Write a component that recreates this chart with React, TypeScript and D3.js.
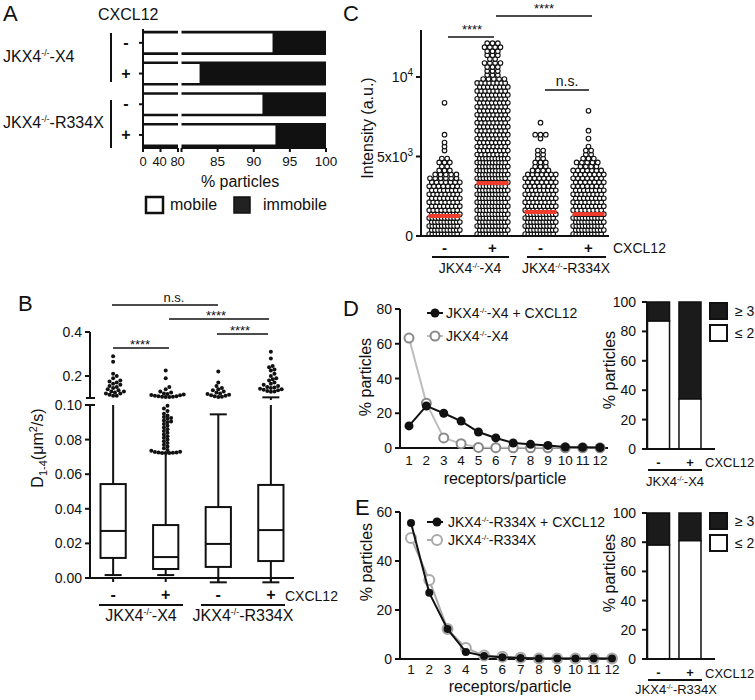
import React from 'react';
import * as d3 from 'd3';

const FONT = '"Liberation Sans", Arial, Helvetica, sans-serif';

// ---------- Panel A : mobile / immobile fractions ----------
const aConditions = ['-', '+', '-', '+'];
const aMobile = [92.6, 82.5, 91.2, 93.0];
const aSeg1Ticks = [0, 40, 80];
const aSeg2Ticks = [80, 85, 90, 95, 100];

// ---------- Panel B : D1-4 box plots ----------
const bConditions = ['-', '+', '-', '+'];
const bWhiskerLow = [0.0017, 0.0017, -0.0025, -0.0025];
const bQ1 = [0.0116, 0.0052, 0.0064, 0.0098];
const bMedian = [0.0272, 0.0121, 0.0197, 0.0277];
const bQ3 = [0.0543, 0.0306, 0.041, 0.0538];
const bWhiskerHigh = [0.1, 0.0723, 0.0946, 0.103];
const bOutliers1 = [0.29, 0.265, 0.21, 0.2, 0.19, 0.18, 0.175, 0.17, 0.165, 0.16, 0.155, 0.15, 0.145, 0.14, 0.135, 0.13, 0.13, 0.125, 0.12, 0.12, 0.115, 0.11, 0.11];
const bOutliers2 = [0.225, 0.19, 0.15, 0.14, 0.13, 0.125, 0.12, 0.118, 0.116, 0.114, 0.112, 0.11, 0.108, 0.108, 0.106, 0.106, 0.104, 0.104,
  0.0995, 0.098, 0.0965, 0.095, 0.094, 0.093, 0.0925, 0.092, 0.091, 0.0905, 0.09, 0.089, 0.088, 0.087, 0.086, 0.085, 0.084, 0.083, 0.082, 0.081, 0.08, 0.079, 0.078, 0.077, 0.076, 0.075, 0.074, 0.0735, 0.073, 0.0728, 0.0725, 0.0725, 0.0724, 0.0723, 0.0722, 0.0722];
const bOutliers3 = [0.22, 0.17, 0.155, 0.145, 0.14, 0.135, 0.13, 0.125, 0.12, 0.118, 0.115, 0.112, 0.11, 0.108, 0.106, 0.105];
const bOutliers4 = [0.31, 0.28, 0.245, 0.24, 0.23, 0.225, 0.21, 0.2, 0.19, 0.185, 0.18, 0.17, 0.165, 0.16, 0.155, 0.15, 0.148, 0.145, 0.142, 0.14, 0.138, 0.135, 0.132, 0.13, 0.128];
const bLowTicks = [0, 0.02, 0.04, 0.06, 0.08, 0.1];
const bHighTicks = [0.2, 0.4];

// ---------- Panel C : intensity dot plots (counts per 250 a.u. bin) ----------
const cConditions = ['-', '+', '-', '+'];
const cBinWidth = 250;
const cBins1 = [10, 10, 10, 10, 10, 10, 8, 8, 8, 8, 8, 8, 7, 7, 6, 5, 3, 2, 3, 2, 0, 1, 1, 1, 0, 1, 0, 0, 0, 0, 0, 0, 0, 1];
const cBins2 = [10, 10, 10, 10, 10, 10, 10, 10, 10, 10, 10, 10, 10, 10, 10, 10, 10, 10, 10, 10, 8, 8, 8, 8, 8, 8, 8, 8, 8, 8, 8, 8, 8, 8, 8, 8, 8, 8, 8, 5, 3, 3, 3, 4, 2, 3, 3, 4, 3];
const cBins3 = [10, 10, 10, 10, 10, 10, 8, 8, 8, 8, 8, 8, 7, 7, 7, 7, 4, 3, 3, 2, 2, 2, 0, 0, 1, 3, 0, 0, 1];
const cBins4 = [10, 10, 10, 10, 10, 10, 8, 8, 8, 8, 8, 8, 7, 7, 7, 7, 7, 4, 5, 3, 2, 2, 1, 0, 1, 0, 1, 0, 0, 0, 0, 1];
const cMedian = [1260, 3330, 1510, 1380];

// ---------- Panel D ----------
const receptors = [1, 2, 3, 4, 5, 6, 7, 8, 9, 10, 11, 12];
const dX4Cxcl = [12.7, 24.2, 20, 15.5, 9.2, 5.8, 2.9, 2.1, 1.5, 0.6, 0.4, 0.3];
const dX4 = [63.3, 25.8, 5.8, 2.5, 0.3, 0.2, 0.1, 0.1, 0.1, 0.1, 0.1, 0.1];
const dLow = [87, 34];
const dTicks = [0, 20, 40, 60, 80];

// ---------- Panel E ----------
const eR334XCxcl = [55.5, 27, 12.2, 2.9, 1.2, 0.7, 0.4, 0.2, 0.2, 0.2, 0.2, 0.2];
const eR334X = [49.4, 32.2, 12.2, 4.5, 1.4, 0.9, 0.5, 0.2, 0.2, 0.2, 0.2, 0.2];
const eLow = [78, 81];
const eTicks = [0, 20, 40, 60];
const barTicks = [0, 20, 40, 60, 80, 100];
const barConditions = ['-', '+'];

const K = '#111';

function Geno({ x, y, post, size, anchor = 'start' }: any) {
  return (
    <text x={x} y={y} fontSize={size} textAnchor={anchor} fill={K}>
      JKX4<tspan dy={-size * 0.38} fontSize={size * 0.55}>-/-</tspan>
      <tspan dy={size * 0.38}>{post}</tspan>
    </text>
  );
}

function swarm(vals: number[], cx: number, yf: (v: number) => number, r: number) {
  const placed: { x: number; y: number }[] = [];
  const sorted = [...vals].sort((a, b) => a - b);
  const cands = [0];
  for (let i = 1; i < 30; i++) { cands.push(i * r * 0.9); cands.push(-i * r * 0.9); }
  for (const v of sorted) {
    const y = yf(v);
    let x = cx;
    for (const dx of cands) {
      const ok = placed.every(p => (p.x - (cx + dx)) ** 2 + (p.y - y) ** 2 >= (2 * r * 0.85) ** 2);
      if (ok) { x = cx + dx; break; }
    }
    placed.push({ x, y });
  }
  return placed;
}

function stripLayout(bins: number[], cx: number, yf: (v: number) => number) {
  const pts: { x: number; y: number }[] = [];
  bins.forEach((n, b) => {
    if (!n) return;
    const sp = n > 1 ? Math.min(5.3, 28 / (n - 1)) : 0;
    const stagger = n >= 5 ? (b % 2 ? 1.3 : -1.3) : 0;
    for (let i = 0; i < n; i++) {
      pts.push({ x: cx + (i - (n - 1) / 2) * sp + stagger, y: yf((b + 0.5) * cBinWidth) });
    }
  });
  return pts;
}

export default function App() {
  // ===== Panel A =====
  const xA1 = d3.scaleLinear().domain([0, 80]).range([143, 178]);
  const xA2 = d3.scaleLinear().domain([80, 100]).range([181.5, 326]);
  const yA = d3.scaleBand<number>().domain(d3.range(aMobile.length)).range([27.5, 150.3]).paddingInner(0.3).paddingOuter(0.15);
  const aAxisY = 148;

  // ===== Panel B =====
  const xB = d3.scaleBand<number>().domain(d3.range(4)).range([90, 294]).paddingInner(0.52).paddingOuter(0.2);
  const yBLow = d3.scaleLinear().domain([0, 0.1]).range([578, 405]);
  const yBHigh = d3.scaleLinear().domain([0.1, 0.4]).range([398, 332]);
  const yB = (v: number) => (v <= 0.1 ? yBLow(v) : yBHigh(v));
  const bCx = (i: number) => xB(i)! + xB.bandwidth() / 2;
  const bOut = [bOutliers1, bOutliers2, bOutliers3, bOutliers4];

  // ===== Panel C =====
  const xC = d3.scaleBand<number>().domain(d3.range(4)).range([421, 612]).paddingInner(0.42).paddingOuter(0.2);
  const yC = d3.scaleLinear().domain([0, 10000]).range([236, 77]);
  const cCx = (i: number) => xC(i)! + xC.bandwidth() / 2;
  const cBins = [cBins1, cBins2, cBins3, cBins4];

  // ===== Panel D / E =====
  const xD = d3.scaleLinear().domain([1, 12]).range([409, 600]);
  const yD = d3.scaleLinear().domain([0, 80]).range([448, 309]);
  const xE = d3.scaleLinear().domain([1, 12]).range([411, 612]);
  const yE = d3.scaleLinear().domain([0, 60]).range([659, 512]);
  const xBar = d3.scaleBand<number>().domain([0, 1]).range([647.5, 701]).paddingInner(0.3).paddingOuter(0);
  const yDB = d3.scaleLinear().domain([0, 100]).range([449, 302]);
  const yEB = d3.scaleLinear().domain([0, 100]).range([659, 513]);

  const lineD = (xs: any, ys: any) => d3.line<number>().x((_, i) => xs(receptors[i])).y(d => ys(d));

  const renderStacked = (vals: number[], ys: any, axisY: number) => (
    <g>
      {vals.map((v, i) => (
        <g key={i}>
          <rect x={xBar(i)} y={ys(100)} width={xBar.bandwidth()} height={ys(v) - ys(100)} fill="#1b1b1b" stroke={K} strokeWidth={1.5} />
          <rect x={xBar(i)} y={ys(v)} width={xBar.bandwidth()} height={ys(0) - ys(v)} fill="#fff" stroke={K} strokeWidth={1.5} />
        </g>
      ))}
      <line x1={647} x2={647} y1={ys(100)} y2={axisY} stroke={K} strokeWidth={2} />
      <line x1={647} x2={715} y1={axisY} y2={axisY} stroke={K} strokeWidth={2} />
      {barTicks.map(t => (
        <g key={t}>
          <line x1={642} x2={647} y1={ys(t)} y2={ys(t)} stroke={K} strokeWidth={2} />
          <text x={636} y={ys(t) + 5} fontSize={14} textAnchor="end" fill={K}>{t}</text>
        </g>
      ))}
    </g>
  );

  const legendSq = (y0: number) => (
    <g>
      <rect x={710} y={y0} width={17} height={16} fill="#1b1b1b" stroke={K} strokeWidth={2} />
      <text x={735} y={y0 + 13} fontSize={14} fill={K}>≥ 3</text>
      <rect x={710} y={y0 + 22} width={17} height={16} fill="#fff" stroke={K} strokeWidth={2} />
      <text x={735} y={y0 + 35} fontSize={14} fill={K}>≤ 2</text>
    </g>
  );

  return (
    <svg width={755} height={700} style={{ position: 'absolute', left: 0, top: 0, fontFamily: FONT, background: '#fff' }}>
      <rect x={0} y={0} width={755} height={700} fill="#fff" />

      {/* ================= PANEL A ================= */}
      <text x={3} y={21} fontSize={22} fill={K}>A</text>
      <text x={98} y={20} fontSize={16} fill={K}>CXCL12</text>
      <Geno x={3} y={62} post="-X4" size={16} />
      <Geno x={3} y={128} post="-R334X" size={16} />
      <line x1={111} x2={111} y1={33} y2={82} stroke={K} strokeWidth={2} />
      <line x1={111} x2={111} y1={100} y2={148} stroke={K} strokeWidth={2} />
      {aMobile.map((v, i) => {
        const y0 = yA(i)!;
        const h = yA.bandwidth();
        return (
          <g key={i}>
            <rect x={xA2(v)} y={y0} width={xA2(100) - xA2(v)} height={h} fill={K} />
            {[y0, y0 + h].map((yy, j) => (
              <g key={j}>
                <line x1={xA1(0)} x2={xA1(80)} y1={yy} y2={yy} stroke={K} strokeWidth={2.6} />
                <line x1={xA2(80)} x2={xA2(100)} y1={yy} y2={yy} stroke={K} strokeWidth={2.6} />
              </g>
            ))}
            <line x1={139} x2={143} y1={y0 + h / 2} y2={y0 + h / 2} stroke={K} strokeWidth={2} />
            <text x={126} y={y0 + h / 2 + 5} fontSize={16} fontWeight="bold" textAnchor="middle" fill={K}>{aConditions[i]}</text>
          </g>
        );
      })}
      <line x1={143} x2={143} y1={29} y2={aAxisY} stroke={K} strokeWidth={2} />
      <line x1={xA1(0)} x2={xA1(80)} y1={aAxisY} y2={aAxisY} stroke={K} strokeWidth={2} />
      <line x1={xA2(80)} x2={xA2(100)} y1={aAxisY} y2={aAxisY} stroke={K} strokeWidth={2} />
      {aSeg1Ticks.map(t => (
        <line key={'a1' + t} x1={xA1(t)} x2={xA1(t)} y1={aAxisY} y2={aAxisY + 4} stroke={K} strokeWidth={2} />
      ))}
      {aSeg2Ticks.map(t => (
        <line key={'a2' + t} x1={xA2(t)} x2={xA2(t)} y1={aAxisY} y2={aAxisY + 4} stroke={K} strokeWidth={2} />
      ))}
      {aSeg1Ticks.map(t => (
        <text key={'at1' + t} x={xA1(t) + (t === 80 ? -0.5 : t === 40 ? -1 : 0)} y={166} fontSize={13} textAnchor="middle" fill={K} letterSpacing={-0.3}>{t}</text>
      ))}
      {aSeg2Ticks.filter(t => t > 80).map(t => (
        <text key={'at2' + t} x={xA2(t)} y={166} fontSize={13.5} textAnchor="middle" fill={K}>{t}</text>
      ))}
      <text x={240} y={187} fontSize={16} textAnchor="middle" fill={K}>% particles</text>
      <rect x={146} y={197} width={17} height={16} fill="#fff" stroke={K} strokeWidth={2.5} />
      <text x={170} y={210} fontSize={16} fill={K}>mobile</text>
      <rect x={234} y={197} width={16} height={16} fill="#222" stroke={K} strokeWidth={1.5} />
      <text x={263} y={210} fontSize={16} fill={K}>immobile</text>

      {/* ================= PANEL B ================= */}
      <text x={18} y={311} fontSize={22} fill={K}>B</text>
      <text transform="translate(43,448) rotate(-90)" fontSize={16} textAnchor="middle" fill={K}>
        D<tspan dy={4} fontSize={11}>1-4</tspan><tspan dy={-4}>(μm</tspan><tspan dy={-6} fontSize={11}>2</tspan><tspan dy={6}>/s)</tspan>
      </text>
      <line x1={90} x2={90} y1={405} y2={578} stroke={K} strokeWidth={2} />
      <line x1={90} x2={90} y1={332} y2={398} stroke={K} strokeWidth={2} />
      <line x1={86} x2={95} y1={398} y2={398} stroke={K} strokeWidth={2} />
      <line x1={86} x2={95} y1={405} y2={405} stroke={K} strokeWidth={2} />
      <line x1={90} x2={294} y1={578} y2={578} stroke={K} strokeWidth={2} />
      {bLowTicks.map(t => (
        <g key={'bl' + t}>
          <line x1={85} x2={90} y1={yBLow(t)} y2={yBLow(t)} stroke={K} strokeWidth={2} />
          <text x={82} y={yBLow(t) + 5} fontSize={14} textAnchor="end" fill={K}>{t.toFixed(2)}</text>
        </g>
      ))}
      {bHighTicks.map(t => (
        <g key={'bh' + t}>
          <line x1={85} x2={90} y1={yBHigh(t)} y2={yBHigh(t)} stroke={K} strokeWidth={2} />
          <text x={82} y={yBHigh(t) + 5} fontSize={14} textAnchor="end" fill={K}>{t.toFixed(1)}</text>
        </g>
      ))}
      {bConditions.map((c, i) => {
        const x0 = xB(i)!;
        const w = xB.bandwidth();
        const cx = bCx(i);
        const hi = bWhiskerHigh[i];
        return (
          <g key={'bb' + i}>
            <line x1={cx} x2={cx} y1={yB(bWhiskerLow[i])} y2={yB(bQ1[i])} stroke={K} strokeWidth={2} />
            <line x1={cx} x2={cx} y1={yB(bQ3[i])} y2={yBLow(Math.min(hi, 0.1))} stroke={K} strokeWidth={2} />
            {hi > 0.1 && <line x1={cx} x2={cx} y1={yBHigh(0.1) + 2} y2={yBHigh(hi)} stroke={K} strokeWidth={2} />}
            <line x1={cx - 8.5} x2={cx + 8.5} y1={yB(bWhiskerLow[i])} y2={yB(bWhiskerLow[i])} stroke={K} strokeWidth={2} />
            {hi !== 0.1 && <line x1={cx - 8.5} x2={cx + 8.5} y1={yB(hi)} y2={yB(hi)} stroke={K} strokeWidth={2} />}
            <rect x={x0} y={yB(bQ3[i])} width={w} height={yB(bQ1[i]) - yB(bQ3[i])} fill="#fff" stroke={K} strokeWidth={2} />
            <line x1={x0} x2={x0 + w} y1={yB(bMedian[i])} y2={yB(bMedian[i])} stroke={K} strokeWidth={2} />
            <line x1={cx} x2={cx} y1={578} y2={582} stroke={K} strokeWidth={2} />
            {swarm(bOut[i], cx, yB, 2).map((p, j) => (
              <circle key={j} cx={p.x} cy={p.y} r={2} fill={K} />
            ))}
            <text x={cx} y={600} fontSize={16} fontWeight="bold" textAnchor="middle" fill={K}>{c}</text>
          </g>
        );
      })}
      <text x={285} y={601} fontSize={14} fill={K}>CXCL12</text>
      <line x1={99} x2={183} y1={605} y2={605} stroke={K} strokeWidth={2} />
      <line x1={201} x2={285} y1={605} y2={605} stroke={K} strokeWidth={2} />
      <Geno x={141} y={621} post="-X4" size={16} anchor="middle" />
      <Geno x={243} y={621} post="-R334X" size={16} anchor="middle" />
      <line x1={112} x2={218} y1={305} y2={305} stroke={K} strokeWidth={1.5} />
      <text x={174} y={302} fontSize={13} textAnchor="middle" fill={K}>n.s.</text>
      <line x1={169} x2={269} y1={319} y2={319} stroke={K} strokeWidth={1.5} />
      <text x={216} y={320} fontSize={13} textAnchor="middle" fill={K}>****</text>
      <line x1={217} x2={268} y1={334} y2={334} stroke={K} strokeWidth={1.5} />
      <text x={240} y={335} fontSize={13} textAnchor="middle" fill={K}>****</text>
      <line x1={113} x2={169} y1={348} y2={348} stroke={K} strokeWidth={1.5} />
      <text x={140} y={349} fontSize={13} textAnchor="middle" fill={K}>****</text>

      {/* ================= PANEL C ================= */}
      <text x={343} y={21} fontSize={22} fill={K}>C</text>
      <text transform="translate(373,128) rotate(-90)" fontSize={16} textAnchor="middle" fill={K}>Intensity (a.u.)</text>
      {cBins.map((bins, i) => (
        <g key={'cc' + i}>
          {stripLayout(bins, cCx(i), yC).map((p, j) => (
            <circle key={j} cx={p.x} cy={p.y} r={2.3} fill="#fff" stroke={K} strokeWidth={1.1} />
          ))}
        </g>
      ))}
      {cMedian.map((m, i) => (
        <rect key={'cm' + i} x={cCx(i) - 16} y={yC(m) - 2} width={32} height={4} fill="#ee3b2b" />
      ))}
      <line x1={421} x2={421} y1={30} y2={236} stroke={K} strokeWidth={2} />
      <line x1={421} x2={609} y1={236} y2={236} stroke={K} strokeWidth={2} />
      {[0, 5000, 10000].map(t => (
        <line key={'ct' + t} x1={416} x2={421} y1={yC(t)} y2={yC(t)} stroke={K} strokeWidth={2} />
      ))}
      <text x={413} y={yC(0) + 5} fontSize={14} textAnchor="end" fill={K}>0</text>
      <text x={413} y={yC(5000) + 5} fontSize={14} textAnchor="end" fill={K}>5x10<tspan dy={-6} fontSize={10}>3</tspan></text>
      <text x={413} y={yC(10000) + 5} fontSize={14} textAnchor="end" fill={K}>10<tspan dy={-6} fontSize={10}>4</tspan></text>
      {cConditions.map((c, i) => (
        <text key={'cl' + i} x={cCx(i)} y={253} fontSize={15} fontWeight="bold" textAnchor="middle" fill={K}>{c}</text>
      ))}
      <text x={613} y={253} fontSize={14} fill={K}>CXCL12</text>
      <line x1={432} x2={509} y1={257} y2={257} stroke={K} strokeWidth={2} />
      <line x1={527} x2={606} y1={257} y2={257} stroke={K} strokeWidth={2} />
      <Geno x={470} y={273} post="-X4" size={14} anchor="middle" />
      <Geno x={566} y={273} post="-R334X" size={14} anchor="middle" />
      <line x1={448} x2={494} y1={37} y2={37} stroke={K} strokeWidth={1.5} />
      <text x={472} y={34} fontSize={13} textAnchor="middle" fill={K}>****</text>
      <line x1={496} x2={592} y1={16} y2={16} stroke={K} strokeWidth={1.5} />
      <text x={544} y={13} fontSize={13} textAnchor="middle" fill={K}>****</text>
      <line x1={545} x2={589} y1={90} y2={90} stroke={K} strokeWidth={1.5} />
      <text x={567} y={86} fontSize={14} textAnchor="middle" fill={K}>n.s.</text>

      {/* ================= PANEL D ================= */}
      <text x={343} y={316} fontSize={22} fill={K}>D</text>
      <text transform="translate(371,377) rotate(-90)" fontSize={16} textAnchor="middle" fill={K}>% particles</text>
      <line x1={400} x2={400} y1={309} y2={448} stroke={K} strokeWidth={2} />
      <line x1={400} x2={608} y1={448} y2={448} stroke={K} strokeWidth={2} />
      {dTicks.map(t => (
        <g key={'dt' + t}>
          <line x1={395} x2={400} y1={yD(t)} y2={yD(t)} stroke={K} strokeWidth={2} />
          <text x={392} y={yD(t) + 5} fontSize={14} textAnchor="end" fill={K}>{t}</text>
        </g>
      ))}
      {receptors.map(r => (
        <text key={'dx' + r} x={xD(r)} y={465} fontSize={13.5} textAnchor="middle" fill={K}>{r}</text>
      ))}
      <text x={505} y={484} fontSize={16} textAnchor="middle" fill={K}>receptors/particle</text>
      <path d={lineD(xD, yD)(dX4)!} fill="none" stroke="#bdbdbd" strokeWidth={2} />
      {dX4.map((v, i) => (
        <circle key={'dg' + i} cx={xD(receptors[i])} cy={yD(v)} r={4.5} fill="#fff" stroke="#8a8a8a" strokeWidth={2} />
      ))}
      <path d={lineD(xD, yD)(dX4Cxcl)!} fill="none" stroke={K} strokeWidth={2} />
      {dX4Cxcl.map((v, i) => (
        <circle key={'dk' + i} cx={xD(receptors[i])} cy={yD(v)} r={4.5} fill={K} />
      ))}
      <line x1={427} x2={443} y1={313} y2={313} stroke={K} strokeWidth={2} />
      <circle cx={435} cy={313} r={4.5} fill={K} />
      <Geno x={446} y={318} post="-X4 + CXCL12" size={14} />
      <line x1={427} x2={443} y1={336} y2={336} stroke="#bdbdbd" strokeWidth={2} />
      <circle cx={435} cy={336} r={4.5} fill="#fff" stroke="#8a8a8a" strokeWidth={2} />
      <Geno x={446} y={341} post="-X4" size={14} />

      <text transform="translate(615,370) rotate(-90)" fontSize={16} textAnchor="middle" fill={K}>% particles</text>
      {renderStacked(dLow, yDB, 449)}
      {legendSq(303)}
      {barConditions.map((c, i) => (
        <text key={'dbc' + i} x={xBar(i)! + xBar.bandwidth() / 2} y={467} fontSize={13} fontWeight="bold" textAnchor="middle" fill={K}>{c}</text>
      ))}
      <text x={705} y={467} fontSize={13} fill={K}>CXCL12</text>
      <line x1={648} x2={702} y1={470} y2={470} stroke={K} strokeWidth={2} />
      <Geno x={675} y={486} post="-X4" size={13} anchor="middle" />

      {/* ================= PANEL E ================= */}
      <text x={355} y={515} fontSize={22} fill={K}>E</text>
      <text transform="translate(372,562) rotate(-90)" fontSize={16} textAnchor="middle" fill={K}>% particles</text>
      <line x1={400} x2={400} y1={512} y2={659} stroke={K} strokeWidth={2} />
      <line x1={400} x2={615} y1={659} y2={659} stroke={K} strokeWidth={2} />
      {eTicks.map(t => (
        <g key={'et' + t}>
          <line x1={395} x2={400} y1={yE(t)} y2={yE(t)} stroke={K} strokeWidth={2} />
          <text x={392} y={yE(t) + 5} fontSize={14} textAnchor="end" fill={K}>{t}</text>
        </g>
      ))}
      {receptors.map(r => (
        <text key={'ex' + r} x={xE(r)} y={674} fontSize={13.5} textAnchor="middle" fill={K}>{r}</text>
      ))}
      <text x={510} y={692} fontSize={16} textAnchor="middle" fill={K}>receptors/particle</text>
      <path d={lineD(xE, yE)(eR334X)!} fill="none" stroke="#aaaaaa" strokeWidth={2} />
      {eR334X.map((v, i) => (
        <circle key={'eg' + i} cx={xE(receptors[i])} cy={yE(v)} r={5} fill="#fff" stroke="#aaaaaa" strokeWidth={2} />
      ))}
      <path d={lineD(xE, yE)(eR334XCxcl)!} fill="none" stroke={K} strokeWidth={2} />
      {eR334XCxcl.map((v, i) => (
        <circle key={'ek' + i} cx={xE(receptors[i])} cy={yE(v)} r={4} fill={K} />
      ))}
      <line x1={427} x2={443} y1={522} y2={522} stroke={K} strokeWidth={2} />
      <circle cx={437} cy={522} r={4.5} fill={K} />
      <Geno x={448} y={527} post="-R334X + CXCL12" size={14} />
      <line x1={427} x2={443} y1={540} y2={540} stroke="#aaaaaa" strokeWidth={2} />
      <circle cx={437} cy={540} r={5} fill="#fff" stroke="#aaaaaa" strokeWidth={2} />
      <Geno x={448} y={545} post="-R334X" size={14} />

      <text transform="translate(615,573) rotate(-90)" fontSize={16} textAnchor="middle" fill={K}>% particles</text>
      {renderStacked(eLow, yEB, 659)}
      {legendSq(513)}
      {barConditions.map((c, i) => (
        <text key={'ebc' + i} x={xBar(i)! + xBar.bandwidth() / 2} y={677} fontSize={13} fontWeight="bold" textAnchor="middle" fill={K}>{c}</text>
      ))}
      <text x={705} y={678} fontSize={13} fill={K}>CXCL12</text>
      <line x1={648} x2={702} y1={680} y2={680} stroke={K} strokeWidth={2} />
      <Geno x={676} y={694} post="-R334X" size={13} anchor="middle" />
    </svg>
  );
}
